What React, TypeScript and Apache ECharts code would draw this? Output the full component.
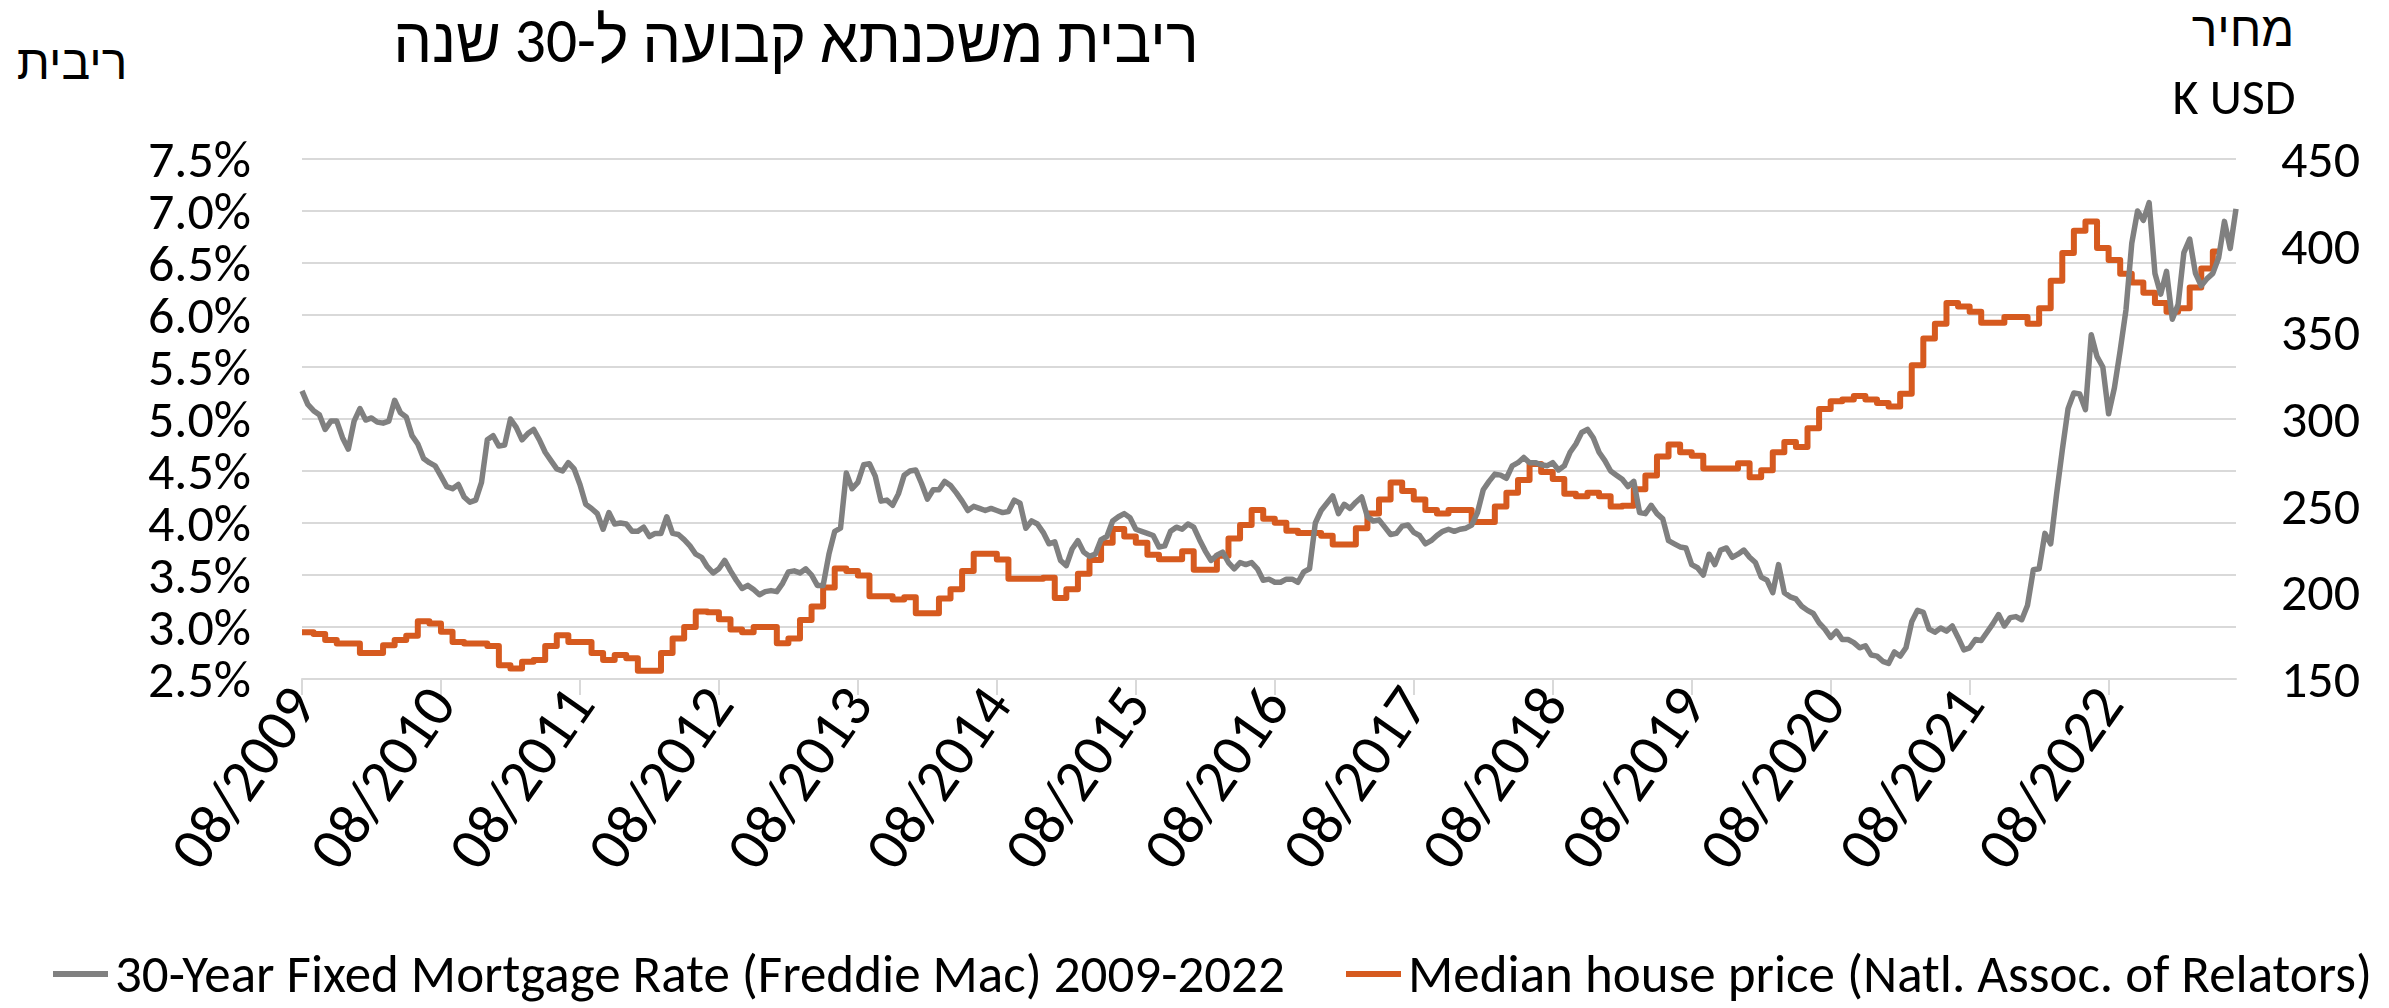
import React, { useEffect, useRef } from "react";
import * as echarts from "echarts";

// Half-month categories from 08/2009 to 07/2023 (335 points)
const START_YEAR = 2009;
const START_MONTH = 8;
const HALF_MONTH_COUNT = 335;

// 30-year fixed mortgage rate (%), two readings per month
const mortgageRate: number[] = [
  5.27, 5.14, 5.08, 5.04, 4.90, 4.98, 4.98, 4.82, 4.71, 4.98, 5.10, 4.99, 5.01, 4.97, 4.96, 4.98, 5.18, 5.06, 5.02, 4.84, 4.76, 4.62, 4.58, 4.55,
  4.45, 4.35, 4.33, 4.37, 4.25, 4.20, 4.22, 4.39, 4.80, 4.84, 4.74, 4.75, 5.00, 4.92, 4.80, 4.86, 4.90, 4.80, 4.68, 4.60, 4.52, 4.50, 4.58, 4.52,
  4.37, 4.18, 4.14, 4.09, 3.94, 4.10, 3.99, 4.00, 3.99, 3.92, 3.92, 3.96, 3.87, 3.90, 3.90, 4.06, 3.90, 3.89, 3.84, 3.78, 3.70, 3.67, 3.58, 3.52,
  3.56, 3.64, 3.54, 3.45, 3.37, 3.40, 3.36, 3.31, 3.34, 3.35, 3.34, 3.42, 3.53, 3.54, 3.52, 3.56, 3.50, 3.40, 3.40, 3.70, 3.92, 3.95, 4.48, 4.33,
  4.39, 4.56, 4.57, 4.45, 4.21, 4.22, 4.17, 4.28, 4.46, 4.50, 4.51, 4.38, 4.23, 4.32, 4.32, 4.40, 4.36, 4.29, 4.21, 4.12, 4.16, 4.14, 4.12, 4.14,
  4.12, 4.10, 4.11, 4.22, 4.19, 3.95, 4.02, 3.99, 3.91, 3.80, 3.82, 3.64, 3.59, 3.75, 3.83, 3.72, 3.68, 3.70, 3.84, 3.87, 4.02, 4.06, 4.09, 4.05,
  3.94, 3.92, 3.90, 3.88, 3.77, 3.78, 3.92, 3.96, 3.94, 3.99, 3.96, 3.84, 3.73, 3.64, 3.69, 3.72, 3.62, 3.56, 3.62, 3.60, 3.62, 3.56, 3.45, 3.46,
  3.43, 3.43, 3.46, 3.46, 3.43, 3.53, 3.56, 4.00, 4.12, 4.19, 4.26, 4.09, 4.18, 4.14, 4.20, 4.25, 4.06, 4.02, 4.03, 3.96, 3.89, 3.90, 3.97, 3.98,
  3.91, 3.88, 3.80, 3.83, 3.88, 3.92, 3.94, 3.92, 3.94, 3.95, 3.98, 4.10, 4.32, 4.40, 4.47, 4.46, 4.43, 4.55, 4.58, 4.63, 4.58, 4.58, 4.56, 4.55,
  4.58, 4.51, 4.55, 4.68, 4.76, 4.87, 4.90, 4.82, 4.68, 4.60, 4.50, 4.46, 4.42, 4.35, 4.40, 4.10, 4.09, 4.17, 4.09, 4.04, 3.83, 3.80, 3.77, 3.76,
  3.60, 3.57, 3.50, 3.70, 3.60, 3.74, 3.76, 3.67, 3.70, 3.74, 3.67, 3.62, 3.48, 3.45, 3.33, 3.60, 3.33, 3.29, 3.27, 3.20, 3.16, 3.13, 3.04, 2.98,
  2.90, 2.96, 2.88, 2.88, 2.85, 2.80, 2.82, 2.73, 2.72, 2.67, 2.65, 2.76, 2.72, 2.80, 3.05, 3.16, 3.14, 2.98, 2.95, 2.99, 2.96, 3.01, 2.90, 2.78,
  2.80, 2.88, 2.87, 2.95, 3.03, 3.12, 3.01, 3.09, 3.10, 3.07, 3.21, 3.55, 3.56, 3.90, 3.80, 4.27, 4.70, 5.10, 5.25, 5.24, 5.09, 5.81, 5.60, 5.50,
  5.05, 5.30, 5.66, 6.05, 6.69, 7.00, 6.91, 7.08, 6.40, 6.20, 6.42, 5.96, 6.10, 6.60, 6.73, 6.40, 6.28, 6.35, 6.40, 6.55, 6.90, 6.64, 7.02,
];

// Median house price (K USD), one reading per month from 08/2009
const medianPrice: number[] = [
  177, 176, 172.5, 170.5, 170.5, 165, 165, 169.5, 172.5, 175, 183.3, 182,
  177.3, 171.3, 170.5, 170.5, 169, 158, 156, 160, 161, 169, 175.3, 171.3,
  171.3, 165, 161, 163.8, 162, 154.7, 154.7, 165, 173.3, 180, 189, 188.5,
  184.5, 178.5, 177, 180, 180, 170.6, 173.3, 184, 191.8, 202.8, 213.7, 212.3,
  209.7, 197.8, 197.8, 195.8, 197.2, 187.9, 187.9, 196.5, 201.8, 212.3, 222.2, 222.2,
  219, 207.8, 207.8, 207.8, 208.4, 196.8, 201.8, 210.7, 218.7, 228.6, 236.6, 232.2,
  228.6, 221.7, 219.1, 219.1, 223.7, 213.1, 213.1, 221.1, 231, 238.9, 247.5, 242.5,
  240.2, 235.6, 234.2, 234.2, 232.6, 227.6, 227.6, 237, 245.5, 253.5, 263.4, 258.5,
  253.5, 247.5, 245.5, 247.5, 247.5, 240.6, 240.6, 249.5, 257.5, 264.8, 274, 269.4,
  265.4, 256.9, 255.5, 257.5, 255.5, 249.5, 250, 259.5, 267.4, 278.4, 285.3, 280.8,
  278.8, 271.4, 271.4, 271.4, 274.4, 266.4, 270.4, 280.8, 286.7, 283.9, 294.7, 305.8,
  310.2, 311.2, 313.2, 311.2, 309.2, 307.2, 314.5, 331, 346.4, 354.9, 366.9, 364.9,
  361.9, 355.5, 355.5, 358.9, 358.9, 354.9, 363.9, 379.8, 395.7, 408.6, 414, 398.7,
  391.7, 383.8, 378.8, 372.8, 366.9, 361.9, 363.9, 375.8, 386.8, 396.7,
];

const rateTicks = { min: 2.5, max: 7.5, interval: 0.5 };
const priceTicks = { min: 150, max: 450, interval: 50 };

const TITLE = "ריבית משכנתא קבועה ל-30 שנה";
const LEFT_AXIS_NAME = "ריבית";
const RIGHT_AXIS_NAME_1 = "מחיר";
const RIGHT_AXIS_NAME_2 = "K USD";
const RATE_NAME = "30-Year Fixed Mortgage Rate (Freddie Mac) 2009-2022";
const PRICE_NAME = "Median house price (Natl. Assoc. of Relators)";

const FONT = "Calibri, Carlito, 'Liberation Sans', 'DejaVu Sans', sans-serif";
const GREY = "#808080";
const ORANGE = "#D65A1F";

function buildCategories(): string[] {
  const cats: string[] = [];
  for (let j = 0; j < HALF_MONTH_COUNT; j++) {
    const m = Math.floor(j / 2);
    const total = START_MONTH - 1 + m;
    const year = START_YEAR + Math.floor(total / 12);
    const month = (total % 12) + 1;
    const mm = month < 10 ? "0" + month : String(month);
    cats.push(mm + "/" + year + (j % 2 === 1 ? " b" : ""));
  }
  return cats;
}

export default function App() {
  const ref = useRef<HTMLDivElement>(null);

  useEffect(() => {
    if (!ref.current) return;
    const chart = echarts.init(ref.current, undefined, { renderer: "svg" });
    const categories = buildCategories();
    const yearly = (i: number) => i % 24 === 0;

    const priceData: any[] = medianPrice.map((v, k) => [2 * k, v]);
    priceData.push([2 * medianPrice.length - 1, medianPrice[medianPrice.length - 1]]);

    const legendBase = {
      top: 947,
      icon: "rect",
      itemWidth: 55,
      itemHeight: 6,
      padding: 0,
      textStyle: { fontSize: 53, lineHeight: 54, color: "#000", fontFamily: FONT, padding: [0, 0, 0, 2] },
    };

    chart.setOption({
      animation: false,
      backgroundColor: "#ffffff",
      textStyle: { fontFamily: FONT },
      grid: { left: 302, right: 153, top: 159, bottom: 329, containLabel: false },
      legend: [
        { ...legendBase, left: 53, data: [RATE_NAME] },
        { ...legendBase, left: 1346, data: [PRICE_NAME] },
      ],
      xAxis: {
        type: "category",
        data: categories,
        boundaryGap: false,
        axisLine: { lineStyle: { color: "#d9d9d9", width: 2 } },
        axisTick: { interval: yearly, length: 16, lineStyle: { color: "#d9d9d9", width: 2 } },
        axisLabel: {
          interval: yearly,
          rotate: 55,
          fontSize: 60,
          lineHeight: 56,
          color: "#000",
          margin: 14,
          fontFamily: FONT,
          formatter: (v: string) => v.replace(" b", ""),
        },
        splitLine: { show: false },
      },
      yAxis: [
        {
          type: "value",
          position: "left",
          min: rateTicks.min,
          max: rateTicks.max,
          interval: rateTicks.interval,
          axisLine: { show: false },
          axisTick: { show: false },
          axisLabel: {
            fontSize: 52,
            lineHeight: 46,
            color: "#000",
            margin: 51,
            fontFamily: FONT,
            formatter: (v: number) => v.toFixed(1) + "%",
          },
          splitLine: { lineStyle: { color: "#d9d9d9", width: 2 } },
        },
        {
          type: "value",
          position: "right",
          min: priceTicks.min,
          max: priceTicks.max,
          interval: priceTicks.interval,
          axisLine: { show: false },
          axisTick: { show: false },
          axisLabel: { fontSize: 52, lineHeight: 50, color: "#000", margin: 45, fontFamily: FONT },
          splitLine: { show: false },
        },
      ],
      series: [
        {
          name: RATE_NAME,
          type: "line",
          yAxisIndex: 0,
          data: mortgageRate,
          showSymbol: false,
          symbol: "none",
          lineStyle: { color: GREY, width: 5.5, join: "round" },
          itemStyle: { color: GREY },
          z: 3,
        },
        {
          name: PRICE_NAME,
          type: "line",
          yAxisIndex: 1,
          data: priceData,
          step: "end",
          showSymbol: false,
          symbol: "none",
          lineStyle: { color: ORANGE, width: 6, join: "round" },
          itemStyle: { color: ORANGE },
          z: 2,
        },
      ],
      graphic: [
        {
          type: "text",
          x: 796,
          y: 40,
          scaleX: 0.96,
          style: {
            text: TITLE,
            fontSize: 64,
            fontFamily: FONT,
            fill: "#000",
            align: "center",
            verticalAlign: "middle",
          },
        },
        {
          type: "text",
          x: 72,
          y: 62,
          style: {
            text: LEFT_AXIS_NAME,
            fontSize: 48,
            fontFamily: FONT,
            fill: "#000",
            align: "center",
            verticalAlign: "middle",
          },
        },
        {
          type: "text",
          x: 2243,
          y: 29,
          style: {
            text: RIGHT_AXIS_NAME_1,
            fontSize: 48,
            fontFamily: FONT,
            fill: "#000",
            align: "center",
            verticalAlign: "middle",
          },
        },
        {
          type: "text",
          x: 2234,
          y: 96,
          style: {
            text: RIGHT_AXIS_NAME_2,
            fontSize: 50,
            fontFamily: FONT,
            fill: "#000",
            align: "center",
            verticalAlign: "middle",
          },
        },
      ],
    });

    return () => chart.dispose();
  }, []);

  return (
    <div
      ref={ref}
      style={{ position: "fixed", left: 0, top: 0, width: 2389, height: 1008, background: "#fff" }}
    />
  );
}
